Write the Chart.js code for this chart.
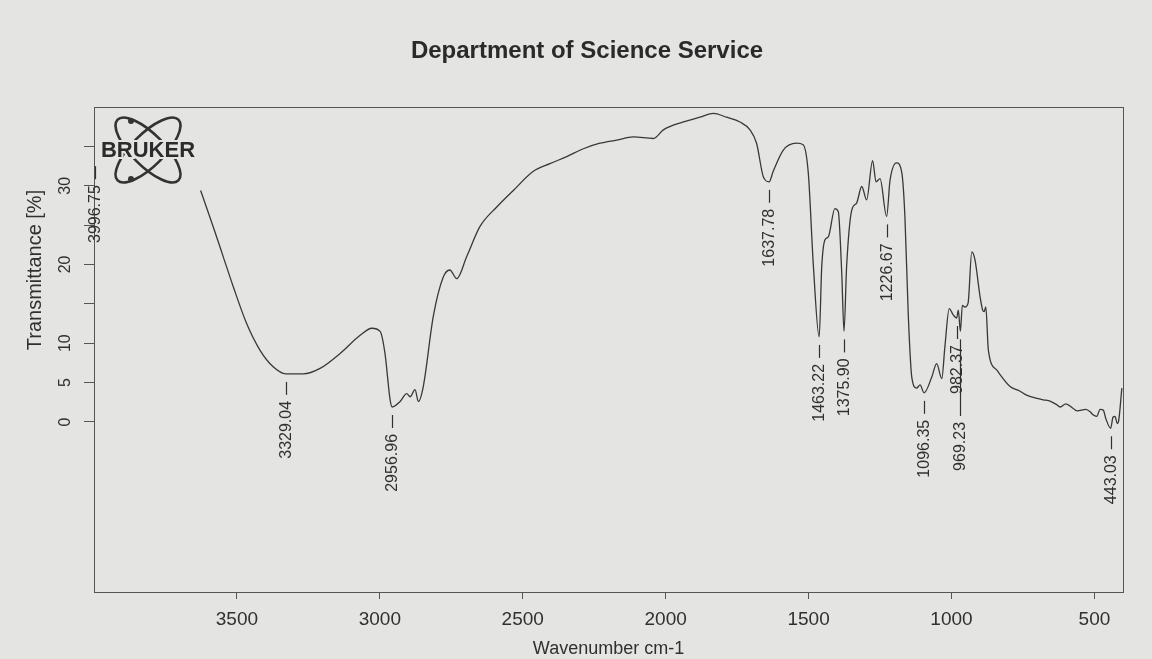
<!DOCTYPE html>
<html>
<head>
<meta charset="utf-8">
<title>IR spectrum</title>
<script src="https://cdn.jsdelivr.net/npm/chart.js@4.4.1/dist/chart.umd.min.js"></script>
<style>
  html, body { margin: 0; padding: 0; background: #e4e4e2; }
  #wrap { width: 1152px; height: 659px; }
</style>
</head>
<body>
<div id="wrap"><canvas id="irChart" width="1152" height="659"></canvas></div>
<script>
// spectrum (wavenumber cm-1 / transmittance %)
const wavenumbers = [
  3627, 3583, 3548, 3513, 3466, 3419, 3373, 3329, 3268, 3209, 3139, 3069, 3028, 2999, 2982,
  2964, 2957, 2929, 2906, 2894, 2877, 2865, 2848, 2813, 2778, 2755, 2731, 2696, 2650, 2591,
  2533, 2464, 2405, 2346, 2288, 2230, 2171, 2113, 2043, 2008, 1938, 1880, 1833, 1787, 1740,
  1705, 1682, 1658, 1638, 1624, 1589, 1542, 1519, 1501, 1483, 1463, 1454, 1443, 1431, 1408,
  1396, 1384, 1376, 1367, 1349, 1332, 1314, 1297, 1276, 1264, 1250, 1227, 1215, 1192, 1174,
  1163, 1151, 1139, 1122, 1110, 1096, 1069, 1052, 1034, 1023, 1008, 994, 982, 976, 969,
  962, 953, 942, 929, 918, 900, 891, 886, 880, 871, 842, 795, 760, 737, 700,
  679, 660, 632, 620, 600, 574, 560, 530, 515, 505, 492, 480, 469, 460, 443,
  435, 428, 420, 416, 404
];
const transmittance = [
  29.4, 24.8, 21.0, 17.2, 12.5, 9.1, 7.0, 6.1, 6.1, 6.8, 8.7, 11.0, 11.9, 11.5, 8.7,
  2.8, 1.9, 2.6, 3.6, 3.2, 4.1, 2.6, 4.5, 13.4, 18.4, 19.3, 18.2, 21.0, 24.8, 27.3,
  29.4, 31.8, 32.8, 33.7, 34.7, 35.4, 35.8, 36.2, 36.0, 37.1, 38.1, 38.7, 39.2, 38.7, 38.1,
  37.1, 35.4, 31.1, 30.5, 31.8, 34.5, 35.4, 35.2, 31.6, 19.7, 10.8, 19.7, 23.1, 23.5, 27.1,
  26.7, 18.9, 11.5, 19.7, 26.9, 27.8, 29.9, 28.2, 33.2, 30.5, 30.9, 26.1, 30.7, 32.9, 31.7,
  26.1, 13.4, 5.7, 4.3, 4.7, 3.7, 5.7, 7.4, 5.5, 9.6, 14.4, 13.6, 13.2, 14.2, 11.5,
  14.8, 14.6, 15.1, 21.6, 20.6, 15.9, 14.2, 14.0, 14.6, 9.1, 6.6, 4.5, 3.9, 3.4, 3.0,
  2.8, 2.7, 2.2, 1.9, 2.3, 1.7, 1.4, 1.6, 1.3, 0.9, 0.7, 1.6, 1.5, 0.4, -0.8,
  0.6, 0.7, -0.2, 0.0, 4.3
];

// picked peaks and the level their marker hangs from
const peakWavenumbers = [3996.75, 3329.04, 2956.96, 1637.78, 1463.22, 1375.90, 1226.67, 1096.35, 982.37, 969.23, 443.03];
const peakLevels = [33.5, 6.1, 1.9, 30.5, 10.8, 11.5, 26.1, 3.7, 13.2, 11.5, -0.8];

const xTicks = [3500, 3000, 2500, 2000, 1500, 1000, 500];
const yTicks = [0, 5, 10, 15, 20, 25, 30, 35];
const yLabelled = [0, 5, 10, 20, 30];

const paper = '#e4e4e2';
const ink = '#303030';
const fontFam = '"Liberation Sans", Arial, Helvetica, sans-serif';

const points = wavenumbers.map((w, i) => ({ x: w, y: transmittance[i] }));

const paperPlugin = {
  id: 'paper',
  beforeDraw(chart) {
    const ctx = chart.ctx;
    ctx.save();
    ctx.fillStyle = paper;
    ctx.fillRect(0, 0, chart.width, chart.height);
    ctx.restore();
  }
};

const decorPlugin = {
  id: 'decor',
  afterDraw(chart) {
    const { ctx, chartArea: a, scales: { x, y } } = chart;
    ctx.save();

    // frame
    ctx.strokeStyle = '#555';
    ctx.lineWidth = 1;
    ctx.strokeRect(a.left + 0.5, a.top + 0.5, a.right - a.left, a.bottom - a.top);

    // title
    ctx.fillStyle = '#2a2a2a';
    ctx.font = 'bold 24px ' + fontFam;
    ctx.textAlign = 'center';
    ctx.textBaseline = 'middle';
    ctx.fillText('Department of Science Service', 587, 51);

    // y axis title
    ctx.save();
    ctx.translate(35, 270);
    ctx.rotate(-Math.PI / 2);
    ctx.font = '20px ' + fontFam;
    ctx.fillStyle = ink;
    ctx.fillText('Transmittance [%]', 0, 0);
    ctx.restore();

    // peak markers
    ctx.font = '16px ' + fontFam;
    ctx.fillStyle = ink;
    ctx.strokeStyle = ink;
    ctx.lineWidth = 1.2;
    let prevX = null, prevEnd = 0;
    peakWavenumbers.forEach((wn, i) => {
      const px = Math.round(x.getPixelForValue(wn)) + 0.5;
      const top = y.getPixelForValue(peakLevels[i]) + 8;
      let end = top + 13;
      if (prevX !== null && Math.abs(px - prevX) < 12) end = Math.max(end, prevEnd + 22);
      ctx.beginPath();
      ctx.moveTo(px, top);
      ctx.lineTo(px, end);
      ctx.stroke();
      const label = wn.toFixed(2);
      ctx.save();
      ctx.translate(px, end + 6);
      ctx.rotate(-Math.PI / 2);
      ctx.textAlign = 'right';
      ctx.textBaseline = 'middle';
      ctx.fillText(label, 0, 0);
      ctx.restore();
      prevX = px;
      prevEnd = end + 6 + ctx.measureText(label).width;
    });

    // bruker logo
    const cx = 148, cy = 150;
    ctx.strokeStyle = '#333';
    ctx.lineWidth = 2.6;
    [Math.PI / 4, -Math.PI / 4].forEach(r => {
      ctx.beginPath();
      ctx.ellipse(cx, cy, 43, 16, r, 0, Math.PI * 2);
      ctx.stroke();
    });
    ctx.fillStyle = '#333';
    [[131, 121], [131, 179]].forEach(p => {
      ctx.beginPath();
      ctx.arc(p[0], p[1], 3, 0, Math.PI * 2);
      ctx.fill();
    });
    ctx.font = 'bold 22px ' + fontFam;
    ctx.textAlign = 'center';
    ctx.textBaseline = 'middle';
    ctx.lineWidth = 4;
    ctx.strokeStyle = paper;
    ctx.strokeText('BRUKER', cx, cy + 1, 101);
    ctx.fillStyle = '#2b2b2b';
    ctx.fillText('BRUKER', cx, cy + 1, 101);

    ctx.restore();
  }
};

new Chart(document.getElementById('irChart'), {
  type: 'line',
  data: {
    datasets: [{
      data: points,
      borderColor: '#383838',
      borderWidth: 1.3,
      pointRadius: 0,
      cubicInterpolationMode: 'monotone',
      fill: false
    }]
  },
  options: {
    responsive: false,
    devicePixelRatio: 1,
    animation: false,
    parsing: false,
    layout: { padding: { top: 107, right: 29, left: 0, bottom: 0 } },
    plugins: {
      legend: { display: false },
      tooltip: { enabled: false }
    },
    scales: {
      x: {
        type: 'linear',
        reverse: true,
        min: 400,
        max: 4000,
        afterBuildTicks: s => { s.ticks = xTicks.map(v => ({ value: v })); },
        afterFit: s => { s.height = 67; },
        grid: { drawOnChartArea: false, drawTicks: true, tickLength: 7, color: '#555' },
        border: { display: true, color: '#555' },
        ticks: {
          color: ink,
          font: { family: fontFam, size: 19 },
          padding: 9,
          maxRotation: 0,
          autoSkip: false,
          callback: v => String(v)
        },
        title: {
          display: true,
          text: 'Wavenumber cm-1',
          color: ink,
          font: { family: fontFam, size: 18, lineHeight: 1 },
          padding: { top: 0, bottom: 1 }
        }
      },
      y: {
        type: 'linear',
        min: -21.6,
        max: 40,
        afterBuildTicks: s => { s.ticks = yTicks.map(v => ({ value: v })); },
        afterFit: s => { s.width = 94; },
        grid: { drawOnChartArea: false, drawTicks: true, tickLength: 10, color: '#555' },
        border: { display: true, color: '#555' },
        ticks: {
          color: ink,
          font: { family: fontFam, size: 16 },
          minRotation: 90,
          maxRotation: 90,
          crossAlign: 'center',
          padding: 10,
          autoSkip: false,
          callback: v => (yLabelled.includes(v) ? String(v) : '')
        }
      }
    }
  },
  plugins: [paperPlugin, decorPlugin]
});
</script>
</body>
</html>
